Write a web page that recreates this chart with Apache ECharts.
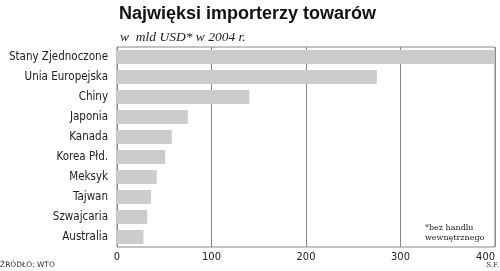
<!DOCTYPE html>
<html><head><meta charset="utf-8">
<script src="https://cdn.jsdelivr.net/npm/echarts@6/dist/echarts.min.js"></script>
<style>html,body{margin:0;padding:0;background:#fff}#c{width:500px;height:271px}</style>
</head><body><div id="c"></div>
<script>
const categories = ["Stany Zjednoczone","Unia Europejska","Chiny","Japonia","Kanada","Korea Płd.","Meksyk","Tajwan","Szwajcaria","Australia"];
const values = [400, 275, 140, 75, 58, 51, 42, 36, 32, 28];
const tickLabels = ["0","100","200","300","400"];

const chart = echarts.init(document.getElementById('c'), null, {renderer:'canvas'});
chart.setOption({
  animation:false,
  backgroundColor:'#fff',
  title:[
    {text:'Najwięksi importerzy towarów', left:114, top:0,
     textStyle:{fontFamily:'Liberation Sans', fontWeight:'bold', fontSize:18, color:'#111'}},
    {text:'w  mld USD* w 2004 r.', left:115, top:25,
     textStyle:{fontFamily:'Liberation Serif', fontStyle:'italic', fontWeight:'normal', fontSize:13.5, color:'#222'}}
  ],
  grid:{left:117, right:5, top:47, bottom:24, show:true, borderColor:'#888', borderWidth:1, containLabel:false, outerBoundsMode:'none'},
  xAxis:{type:'value', min:0, max:400, interval:100,
    axisLine:{show:false}, axisTick:{show:false},
    splitLine:{show:true, lineStyle:{color:'#888', width:1}},
    axisLabel:{fontFamily:'DejaVu Sans Condensed', fontSize:11, color:'#222', margin:5,
      alignMaxLabel:'right',
      formatter:(v)=>tickLabels[Math.round(v/100)]}},
  yAxis:{type:'category', data:categories, inverse:true,
    axisLine:{show:true, lineStyle:{color:'#888'}}, axisTick:{show:false},
    axisLabel:{fontFamily:'DejaVu Sans Condensed', fontSize:11.5, color:'#222', margin:9}},
  series:[{type:'bar', data:values, barWidth:14, itemStyle:{color:'#cccccc'}, silent:true}],
  graphic:[
    {type:'text', left:0, top:261, style:{text:'ŹRÓDŁO: WTO', font:'7.5px "DejaVu Sans"', fill:'#333'}},
    {type:'text', right:1, top:262, style:{text:'S.F.', font:'7px "DejaVu Serif"', fill:'#333'}},
    {type:'text', left:425, top:223, style:{text:'*bez handlu\nwewnętrznego', font:'8px "DejaVu Serif"', fill:'#222', lineHeight:10}}
  ]
});
</script></body></html>
